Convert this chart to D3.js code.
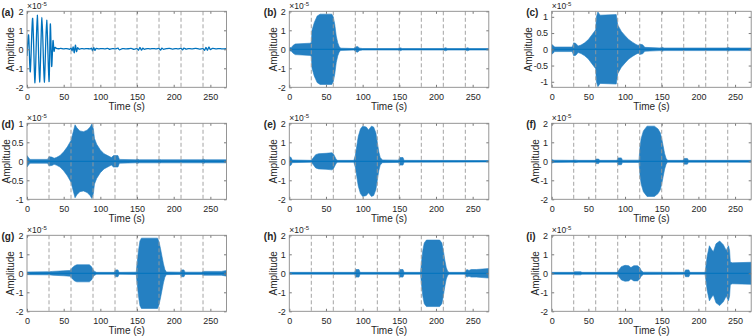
<!DOCTYPE html>
<html>
<head>
<meta charset="utf-8">
<script src="https://cdn.jsdelivr.net/npm/d3@7"></script>
<style>
body { margin: 0; background: #fff; }
text { font-family: "Liberation Sans", Arial, sans-serif; fill: #262626; }
</style>
</head>
<body>
<svg width="753" height="336"></svg>
<script>
// panel names and axis settings
var labels = ["(a)", "(b)", "(c)", "(d)", "(e)", "(f)", "(g)", "(h)", "(i)"];
var yMax = [2, 2, 1.17, 1, 2, 2, 2, 2, 2];
var yTicks2 = [-2, -1, 0, 1, 2];
var yTicks1 = [-1, -0.5, 0, 0.5, 1];
var xTicks = [0, 50, 100, 150, 200, 250];
var dashTimes = [30, 60, 90, 120, 150, 180, 210, 240];
var tMax = 272;

// (a): the waveform itself, extremes (x1e-5)
var waveA = [[0,-0.35],[2.2,0.75],[4.5,-1.18],[7.7,1.63],[10.9,-1.76],[14,1.8],[17.2,-1.72],[20.4,1.68],[23.6,-1.73],
  [26.8,1.54],[30,-1.7],[31.8,1.33],[33.6,-0.9],[35.4,0.45],[36.8,-0.1],[38,0.1],[40,0.05],[43,0.03],[46,0.05],[50,0.02],
  [54,0.04],[58,0.0],[60,0.06],[61.5,-0.08],[63,0.12],[64.5,-0.18],[66,0.22],[67.5,-0.12],[69,0.08],[71,0.0],[74,0.04],
  [78,0.02],[82,0.04],[86,0.02],[88,0.06],[89.5,-0.08],[91,0.1],[92.5,-0.06],[94,0.04],[98,0.02],[102,0.04],[106,0.02],
  [110,0.05],[113,0.0],[116,0.04],[120,0.02],[124,0.06],[126,-0.03],[130,0.04],[134,0.02],[138,0.03],[142,0.05],[146,0.0],
  [150,0.04],[152,-0.05],[154,0.1],[156,-0.04],[158,0.06],[160,0.0],[164,0.04],[168,0.02],[172,0.04],[176,0.02],[180,0.05],
  [182,-0.04],[184,0.06],[186,0.0],[190,0.03],[194,0.05],[198,0.01],[202,0.04],[206,0.02],[210,0.05],[212,-0.03],[214,0.06],
  [217,0.01],[220,0.04],[225,0.02],[230,0.05],[235,0.01],[240,0.04],[242,-0.06],[244,0.1],[246,-0.05],[248,0.12],[250,-0.02],
  [253,0.05],[258,0.02],[262,0.04],[266,0.02],[272,0.03]];

// (b)-(i): envelopes [time, amplitude x1e-5]
var envB = [[0,0.08],[3,0.1],[5,0.2],[8,0.28],[28,0.32],[30,0.35],[31,1.0],[34,1.4],[38,1.75],[42,1.85],[58,1.85],[60,1.7],
  [62,1.3],[64,0.7],[66,0.35],[68,0.15],[70,0.06],[88,0.04],[90,0.12],[93,0.15],[96,0.06],[100,0.04],[148,0.04],[151,0.08],
  [154,0.04],[210,0.04],[213,0.08],[216,0.04],[240,0.04],[243,0.08],[246,0.04],[272,0.04]];
var envC = [[0,0.15],[2,0.12],[4,0.07],[28,0.07],[30,0.2],[33,0.18],[36,0.1],[40,0.13],[45,0.2],[50,0.3],[55,0.45],[60,0.6],
  [61,1.0],[63,1.15],[66,1.05],[88,1.07],[90,0.75],[95,0.55],[100,0.42],[105,0.3],[110,0.22],[115,0.15],[118,0.12],[120,0.16],
  [124,0.14],[127,0.06],[148,0.04],[150,0.07],[153,0.04],[238,0.04],[240,0.06],[243,0.04],[272,0.04]];
var envD = [[0,0.15],[2,0.1],[4,0.05],[28,0.05],[30,0.12],[34,0.11],[37,0.08],[40,0.1],[45,0.15],[50,0.25],[55,0.38],[60,0.55],
  [62,0.7],[65.5,0.96],[68,0.88],[72,0.8],[77,0.78],[82,0.82],[86,0.9],[88.5,0.98],[90.5,0.85],[92,0.6],[95,0.45],[100,0.3],
  [105,0.2],[110,0.15],[115,0.1],[118,0.15],[124,0.15],[126,0.05],[148,0.04],[150,0.06],[153,0.04],[178,0.04],[180,0.05],
  [183,0.04],[238,0.04],[240,0.06],[243,0.04],[272,0.04]];
var envE = [[0,0.25],[2.5,0.2],[4,0.07],[30,0.05],[33,0.2],[36,0.35],[40,0.4],[50,0.42],[58,0.45],[60,0.4],[62,0.25],[64,0.1],
  [66,0.05],[88,0.05],[90,0.3],[92,0.8],[94,1.3],[97,1.7],[100,1.85],[105,1.8],[108,1.65],[112,1.85],[115,1.8],[118,1.5],
  [120,1.0],[122,0.5],[124,0.2],[127,0.07],[149,0.06],[150.5,0.2],[155,0.2],[156.5,0.05],[272,0.04]];
var envF = [[0,0.1],[3,0.06],[28,0.05],[30,0.07],[34,0.06],[36,0.05],[59,0.05],[60.5,0.12],[64,0.12],[65.5,0.05],[89,0.05],
  [90.5,0.18],[95,0.18],[96.5,0.06],[119,0.06],[120.5,0.8],[122,1.2],[125,1.6],[130,1.85],[140,1.85],[145,1.7],[148,1.5],
  [150,1.2],[152,0.8],[154,0.4],[156,0.15],[158,0.05],[179,0.05],[180.5,0.15],[185,0.15],[186.5,0.05],[272,0.05]];
var envG = [[0,0.07],[28,0.08],[30,0.08],[35,0.1],[50,0.13],[58,0.15],[60,0.2],[62,0.3],[65,0.4],[68,0.45],[85,0.45],
  [88,0.35],[90,0.2],[92,0.1],[95,0.05],[119,0.05],[120.5,0.18],[124,0.18],[125.5,0.05],[149,0.06],[150,0.5],[152,1.2],
  [154,1.7],[156,1.85],[178,1.85],[180,1.65],[182,1.3],[184,0.9],[186,0.5],[188,0.2],[190,0.07],[209,0.06],[210.5,0.18],
  [214,0.18],[215.5,0.06],[238,0.06],[240,0.1],[265,0.1],[272,0.15]];
var envH = [[0,0.05],[59,0.05],[61,0.06],[63,0.05],[89,0.05],[90.5,0.2],[95,0.2],[96.5,0.05],[149,0.05],[150.5,0.2],[155,0.2],
  [156.5,0.05],[179,0.05],[180,0.5],[182,1.2],[184,1.6],[187,1.75],[205,1.75],[208,1.6],[210,1.2],[212,0.7],[214,0.3],
  [216,0.1],[218,0.05],[239,0.05],[240,0.1],[242,0.2],[245,0.15],[248,0.2],[255,0.2],[272,0.25]];
var envI = [[0,0.05],[30,0.05],[31,0.08],[40,0.08],[41,0.05],[89,0.05],[92,0.2],[95,0.35],[100,0.42],[105,0.4],[108,0.3],
  [112,0.4],[117,0.4],[120,0.3],[122,0.15],[125,0.06],[181,0.05],[182.5,0.18],[187,0.18],[188.5,0.05],[209,0.05],[210,0.3],
  [212,0.9],[215,1.45],[219,1.2],[220.5,1.15],[224,1.55],[229,1.7],[234,1.5],[238,1.2],[241,1.45],[242.5,1.2],[243.5,0.6],
  [246,0.55],[272,0.58]];

var series = [waveA, envB, envC, envD, envE, envF, envG, envH, envI];

var svg = d3.select("svg");
var colX = [27, 289.3, 551.7],
    rowY = [11.3, 123.3, 235.3],
    width = 199.5,
    height = 76;
var blue = "#0072BD";

labels.forEach(function(name, i) {
    var left = colX[i % 3], top = rowY[Math.floor(i / 3)];
    var x = d3.scaleLinear().domain([0, tMax]).range([0, width]);
    var y = d3.scaleLinear().domain([-yMax[i], yMax[i]]).range([height, 0]);
    var ticks = yMax[i] === 2 ? yTicks2 : yTicks1;

    var g = svg.append("g").attr("transform", "translate(" + left + "," + top + ")");

    g.append("clipPath").attr("id", "clip" + i)
        .append("rect").attr("width", width).attr("height", height);
    var plot = g.append("g").attr("clip-path", "url(#clip" + i + ")");

    if (i === 0) {
        // losse golf zichtbaar
        plot.append("path")
            .datum(series[i])
            .attr("fill", "none")
            .attr("stroke", blue)
            .attr("stroke-width", 1.3)
            .attr("d", d3.line().curve(d3.curveCardinal.tension(0.2))
                .x(function(d) { return x(d[0]); })
                .y(function(d) { return y(d[1]); }));
    } else {
        // dichte trilling -> omhullende als vlak
        plot.append("path")
            .datum(series[i])
            .attr("fill", "#2580c2")
            .attr("stroke", "#2580c2")
            .attr("stroke-width", 0.6)
            .attr("d", d3.area()
                .x(function(d) { return x(d[0]); })
                .y0(function(d) { return y(-d[1]); })
                .y1(function(d) { return y(d[1]); }));
        plot.append("line")
            .attr("x1", 0).attr("x2", width)
            .attr("y1", y(0)).attr("y2", y(0))
            .attr("stroke", blue).attr("stroke-width", 1);
    }

    // stippellijnen
    g.selectAll(".dash")
        .data(dashTimes.filter(function(t) { return i > 0 || t > 30; }))
        .enter().append("line")
        .attr("x1", function(d) { return x(d); })
        .attr("x2", function(d) { return x(d); })
        .attr("y1", 0).attr("y2", height)
        .attr("stroke", "#9a9a9a")
        .attr("stroke-width", 0.9)
        .attr("stroke-dasharray", "4,2.5");

    // assen met ticks naar binnen
    g.append("g").attr("transform", "translate(0," + height + ")")
        .call(d3.axisBottom(x).tickValues(xTicks).tickSizeInner(-2.5).tickSizeOuter(0).tickPadding(6));
    var ay = g.append("g")
        .call(d3.axisLeft(y).tickValues(ticks).tickSizeInner(-2.5).tickSizeOuter(0).tickPadding(4)
            .tickFormat(function(d) { return String(d); }));
    g.append("g").call(d3.axisTop(x).tickValues(xTicks).tickSizeInner(-2.5).tickSizeOuter(0).tickFormat(""));
    g.append("g").attr("transform", "translate(" + width + ",0)")
        .call(d3.axisRight(y).tickValues(ticks).tickSizeInner(-2.5).tickSizeOuter(0).tickFormat(""));

    g.selectAll(".domain").remove();
    g.selectAll(".tick line").attr("stroke", "#7a7a7a");
    g.selectAll(".tick text").style("font-size", "9px").attr("fill", "#262626");
    ay.selectAll(".tick text").style("letter-spacing", "-0.4px");

    g.append("rect")
        .attr("width", width).attr("height", height)
        .attr("fill", "none").attr("stroke", "#8a8a8a").attr("stroke-width", 0.9);

    g.append("text")
        .attr("x", width / 2).attr("y", height + 22.5)
        .attr("text-anchor", "middle")
        .style("font-size", "10px")
        .text("Time (s)");

    // y-label naast de breedste tick label, maar niet buiten beeld
    var maxW = d3.max(ay.selectAll(".tick text").nodes(), function(n) { return n.getComputedTextLength(); });
    var labX = Math.max(-maxW - 5.5, 10 - left);
    g.append("text")
        .attr("transform", "translate(" + labX + "," + height / 2 + ") rotate(-90)")
        .attr("text-anchor", "middle")
        .style("font-size", "10px")
        .text("Amplitude");

    g.append("text")
        .attr("x", -25.5).attr("y", 5)
        .style("font-size", "10px")
        .style("font-weight", "bold")
        .text(name);

    var exp = g.append("text").attr("x", 0).attr("y", -2.5).style("font-size", "8.5px");
    exp.append("tspan").text("\u00d710");
    exp.append("tspan").attr("dy", -3).style("font-size", "6px").text("-5");
});
</script>
</body>
</html>
